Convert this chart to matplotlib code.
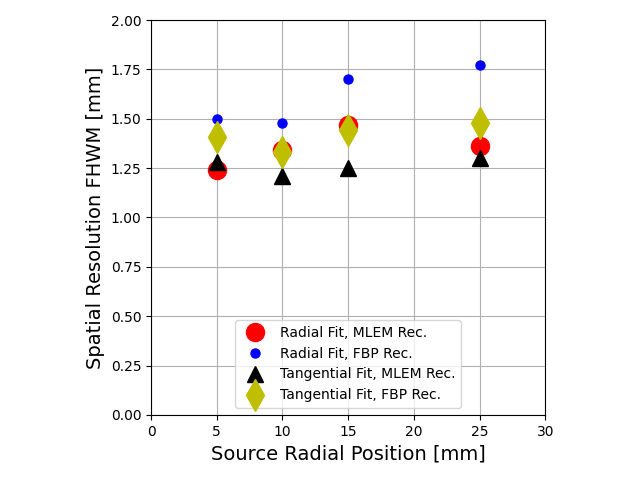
import matplotlib
matplotlib.use('Agg')
import matplotlib.pyplot as plt

pos = [5, 10, 15, 25]
radial_mlem = [1.24, 1.34, 1.47, 1.36]
radial_fbp = [1.50, 1.48, 1.70, 1.77]
tang_mlem = [1.28, 1.21, 1.25, 1.30]
tang_fbp = [1.41, 1.33, 1.445, 1.48]

fig = plt.figure(figsize=(6.4, 4.78), dpi=100)
ax = fig.add_axes([0.236, 0.132, 0.616, 0.826])

ax.plot(pos, radial_mlem, 'ro', markersize=13, label='Radial Fit, MLEM Rec.')
ax.plot(pos, radial_fbp, 'bo', markersize=6.5, label='Radial Fit, FBP Rec.')
ax.plot(pos, tang_mlem, 'k^', markersize=12, label='Tangential Fit, MLEM Rec.')
ax.plot(pos, tang_fbp, 'yd', markersize=16, label='Tangential Fit, FBP Rec.')

ax.set_xlim(0, 30)
ax.set_ylim(0, 2.0)
ax.set_yticks([0, 0.25, 0.5, 0.75, 1.0, 1.25, 1.5, 1.75, 2.0])
ax.grid(True)
ax.set_axisbelow(True)
ax.set_xlabel('Source Radial Position [mm]', fontsize=14)
ax.set_ylabel('Spatial Resolution FHWM [mm]', fontsize=14)
ax.legend(loc='lower center')

fig.savefig('out.png')
